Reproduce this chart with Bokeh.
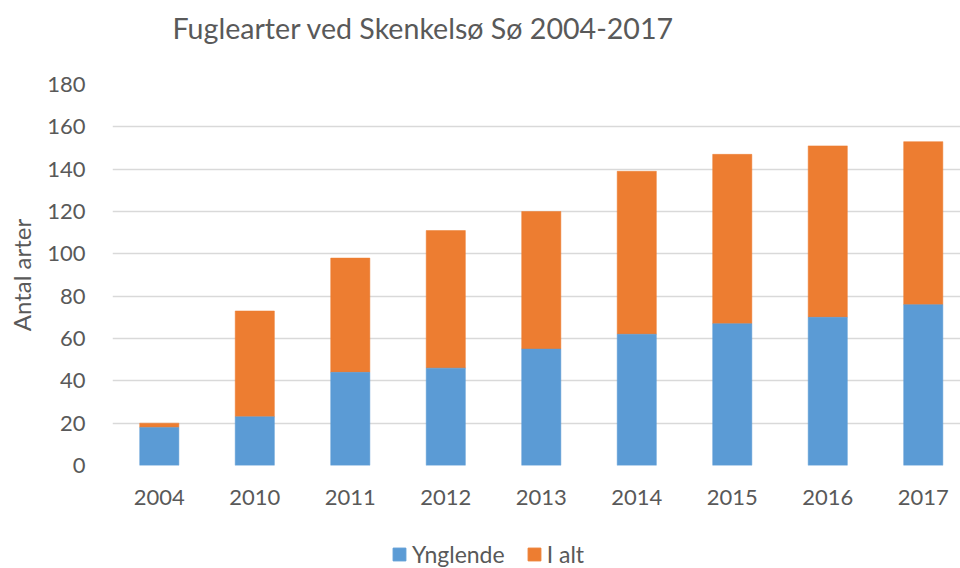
from bokeh.plotting import figure
from bokeh.layouts import column
from bokeh.models import Range1d, FixedTicker, Legend, LegendItem, ColumnDataSource
from bokeh.embed import file_html
from bokeh.resources import INLINE

years = ["2004", "2010", "2011", "2012", "2013", "2014", "2015", "2016", "2017"]
ynglende = [18, 23, 44, 46, 55, 62, 67, 70, 76]
i_alt = [20, 73, 98, 111, 120, 139, 147, 151, 153]
y_ticks = [0, 20, 40, 60, 80, 100, 120, 140, 160, 180]
series_names = ["Ynglende", "I alt"]

TEXT = "#595959"
FONT = "Lato"
BLUE = "#5B9BD5"
ORANGE = "#ED7D31"

idx = list(range(len(years)))
src = ColumnDataSource(dict(x=idx, yng=ynglende, total=i_alt))

# ---- main chart ----
p = figure(width=960, height=528, output_backend="svg", toolbar_location=None,
           x_range=Range1d(-0.49, 8.39), y_range=Range1d(0, 180),
           frame_width=848, frame_height=381,
           min_border_left=112, min_border_right=0, min_border_top=84, min_border_bottom=63)
p.outline_line_color = None
p.background_fill_color = "white"
p.border_fill_color = "white"

ro = p.vbar(x="x", bottom="yng", top="total", width=0.41, source=src,
            fill_color=ORANGE, line_color=ORANGE, line_width=0.5)
rb = p.vbar(x="x", bottom=0, top="yng", width=0.41, source=src,
            fill_color=BLUE, line_color=BLUE, line_width=0.5)

p.title.text = "Fuglearter ved Skenkelsø Sø 2004-2017\n\u00a0"
p.title.text_font = FONT
p.title.text_font_size = "28.6px"
p.title.text_font_style = "normal"
p.title.text_color = TEXT
p.title.align = "left"
p.title.offset = 60
p.title.vertical_align = "top"
p.title.standoff = 8

p.xgrid.grid_line_color = None
p.ygrid.grid_line_color = "#D9D9D9"
p.ygrid.grid_line_width = 1.5

p.yaxis.ticker = FixedTicker(ticks=y_ticks)
p.xaxis.ticker = FixedTicker(ticks=idx)
p.xaxis.major_label_overrides = {i: y for i, y in zip(idx, years)}

for ax in (p.xaxis[0], p.yaxis[0]):
    ax.axis_line_color = None
    ax.major_tick_line_color = None
    ax.minor_tick_line_color = None
    ax.major_tick_in = 0
    ax.major_tick_out = 0
    ax.major_label_text_font = FONT
    ax.major_label_text_font_size = "22px"
    ax.major_label_text_color = TEXT

p.yaxis.major_label_standoff = 27
p.xaxis.major_label_standoff = 24
p.yaxis.axis_label = "Antal arter"
p.yaxis.axis_label_text_font = FONT
p.yaxis.axis_label_text_font_size = "24px"
p.yaxis.axis_label_text_font_style = "normal"
p.yaxis.axis_label_text_color = TEXT
p.yaxis.axis_label_standoff = 8

# ---- legend strip (its own renderers share the data but lie outside its view) ----
p2 = figure(width=960, height=40, output_backend="svg", toolbar_location=None,
            x_range=Range1d(-100, -99), y_range=Range1d(-100, -99),
            x_axis_location=None, y_axis_location=None, min_border=0)
p2.outline_line_color = None
p2.grid.grid_line_color = None
p2.background_fill_color = "white"
p2.border_fill_color = "white"
lb = p2.vbar(x="x", bottom=0, top="yng", width=0.41, source=src,
             fill_color=BLUE, line_color=BLUE)
lo = p2.vbar(x="x", bottom="yng", top="total", width=0.41, source=src,
             fill_color=ORANGE, line_color=ORANGE)

legend = Legend(items=[LegendItem(label=series_names[0], renderers=[lb]),
                       LegendItem(label=series_names[1], renderers=[lo])],
                orientation="horizontal", location=(279, 0),
                glyph_width=16, glyph_height=16, label_standoff=5, spacing=21,
                padding=0, margin=0, border_line_color=None, background_fill_alpha=0,
                label_text_font=FONT, label_text_font_size="23px", label_text_color=TEXT)
p2.add_layout(legend, "center")

layout = column(p, p2, spacing=0)
open("out.html", "w").write(file_html(layout, INLINE))
